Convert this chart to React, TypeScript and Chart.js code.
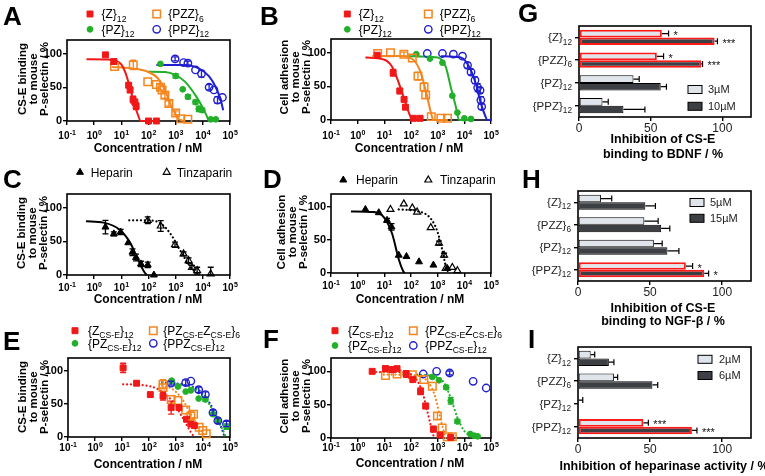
import React, { useEffect, useRef } from 'react';
import { Chart, registerables } from 'chart.js';
Chart.register(...registerables);

const W = 765, H = 476;
const FF = '"Liberation Sans", Arial, Helvetica, sans-serif';
Chart.defaults.font.family = FF;

const RED = '#f01818', ORANGE = '#f5861f', GREEN = '#22b02a', BLUE = '#1f1fd0', BLACK = '#000000';
const LIGHT = '#dfe5ea', DARK = '#3c3f43', SIG_RED = '#ff1a1a';

// ---------- tick values ----------
const DECADES = [0.1, 1, 10, 100, 1000, 10000, 100000];
const Y_TICKS = [0, 50, 100];
const BAR_TICKS = [0, 50, 100];

// ---------- data: [concentration nM, value %, error] ----------
const A_Z = [[2.6,98,0],[5.3,88,4],[18.6,53,3],[21,46,4],[27,32,5],[31.6,28,4],[35,22,5],[100,0,0],[195,0,0]];
const A_Z_FIT = [[0.52,91.5],[3.16,91],[6.3,89],[10,84],[14,72],[20,52],[28,30],[40,10],[52,0],[200,0]];
const A_PZZ = [[5.6,80.6,0],[27.5,83,7],[94,58,0],[195,54,0],[275,50,4],[316,46,0],[400,38,4],[562,26,4],[1000,12,3],[1550,3.5,0],[2800,2.5,0]];
const A_PZZ_FIT = [[4.6,80],[22,78],[94,73],[224,63],[400,46],[708,21],[1260,3.5],[1950,0]];
const A_PZ = [[275,84.6,0],[1000,66.7,3],[1820,47,0],[2820,36,3],[5370,28,3],[7080,18,4],[9550,16,3],[19500,2.5,0],[29900,2.5,0]];
const A_PZ_FIT = [[94,73],[400,72.6],[1000,68],[2240,58],[5370,38],[9550,21],[14450,6],[17000,0],[30000,0]];
const A_PPZ = [[955,92,3],[1950,86.6,0],[2820,85.6,3],[5370,75.6,0],[8900,70,5],[17000,50,4],[25700,46,0],[34700,31,5],[52500,35,0]];
const A_PPZ_FIT = [[195,83],[1660,83],[7080,78],[17000,66],[29900,50],[45700,31],[56200,16]];

const B_Z = [[5.4,96,0],[21.4,70,5],[38,43,4],[55,30.5,3],[62,19,3],[123,2.5,0],[219,2.5,0]];
const B_Z_FIT = [[1.95,92.6],[9.5,89.6],[19.5,79],[35.5,54],[63,24.6],[95,5],[112,0],[220,0]];
const B_PZZ = [[5.6,98.5,0],[17,99.5,0],[54,97.5,3],[112,92,0],[182,65,6],[309,49,6],[355,37,5],[575,5,0],[1320,2.5,0],[2340,2.5,0]];
const B_PZZ_FIT = [[3.5,95],[40,95],[126,88.7],[229,71],[355,44],[550,12],[692,0],[2400,0]];
const B_PZ = [[158,97.5,0],[513,91,0],[1510,85,0],[3550,36,0],[5500,11,0],[10000,2.5,0],[17800,1.5,0]];
const B_PZ_FIT = [[83,94.6],[1000,92.6],[2000,79],[3090,49],[4790,20],[6310,0],[17800,0]];
const B_PPZ = [[407,98.5,0],[1510,98.5,0],[3890,97.5,0],[8510,94.6,0],[13200,81,4],[17800,71,4],[25100,59,5],[31600,48,6],[38900,44,4],[41700,29.5,5],[44700,19.7,4]];
const B_PPZ_FIT = [[1320,94.6],[7410,92.6],[15100,79],[26900,54],[41700,24.6],[58900,7.4],[74100,0],[100000,0]];

const C_HEP = [[2.6,71,10],[5.3,61,3],[9.4,63.7,4],[18,47.8,0],[25.7,33.8,5],[34.7,26,5],[52.5,16.4,4],[94,15,4],[158,0,0]];
const C_HEP_FIT = [[0.5,79.6],[2.24,77.6],[9.4,66],[22.4,46],[40,24],[71,4],[87,0]];
const C_TIN = [[94,81,5],[282,72.6,8],[944,44.8,4],[1950,31.3,3],[2990,21.4,4],[3980,11.4,3],[6170,6.5,5],[19500,1.5,10]];
const C_TIN_FIT = [[19.5,81],[94,81],[299,75.6],[708,58.7],[1260,41],[2240,24],[3980,9],[7080,1.5]];

const D_HEP = [[1.95,96.5,0],[6.2,91.6,0],[12.6,80,3],[18.6,70,5],[34.7,27,0],[67.6,25,0],[200,17,0],[692,12,0],[2290,7,0]];
const D_HEP_FIT = [[0.56,93.6],[4,92.6],[9.5,85],[19.5,60],[34.7,21],[50,3.5],[57.5,0]];
const D_TIN = [[17,96.5,0],[53.7,105,0],[112,99,0],[170,92.6,0],[550,69,0],[1120,45.5,3],[1740,27,3],[2000,7,0],[3550,8.4,0],[5500,3.5,0]];
const D_TIN_FIT = [[34.7,96.5],[170,94],[550,82.7],[977,63],[1480,35.6],[2000,11],[2630,0]];

const E_Z = [[11,105,7],[34.7,81.7,0],[112,64.4,0],[331,62,6],[661,44.6,10],[1290,44.6,0],[2450,27,0],[3550,19.8,4],[4790,17.3,0]];
const E_Z_FIT = [[11,80],[54,79],[229,72],[724,54.5],[1740,29.7],[3550,7.4],[4790,0]];
const E_PZZ = [[331,80,7],[331,75,0],[661,57,0],[1175,55.4,0],[2290,41,0],[3550,32,6],[4470,34.6,0],[7240,14.9,0],[9770,9.9,0],[13200,5,0]];
const E_PZZ_FIT = [[302,78],[724,73],[1740,57],[3550,34.6],[7240,15],[11200,2.5]];
const E_PZ = [[692,85.6,0],[1175,76.7,0],[2290,69,0],[3550,70.8,0],[6920,58.4,0],[12300,57,3],[23400,34.6,0],[35500,24.8,0],[74100,15.8,4]];
const E_PZ_FIT = [[302,81.7],[2290,78],[7240,69],[17400,49.5],[35500,24.8],[58900,7.4],[69200,0]];
const E_PPZ = [[661,81.7,3],[2290,82.7,4],[3550,85,0],[6920,71.8,4],[12300,64.4,4],[23400,37,4],[35500,24.8,4],[74100,19.8,4]];
const E_PPZ_FIT = [[302,83],[2290,79],[7240,70.8],[17400,52],[35500,27],[55000,7.4],[63100,0]];

const F_Z = [[3.5,100,0],[11,104,4],[19.5,102.5,4],[30,104,3],[66,96,5],[117,87.6,0],[229,70,5],[355,48,4],[692,13.4,4],[1230,4.5,0],[3090,1,0]];
const F_Z_FIT = [[3.5,99],[40,98.5],[126,92.6],[263,70],[407,40.6],[575,16],[724,1]];
const F_PZZ = [[11,93.6,0],[30,96,0],[112,95,0],[302,87.6,0],[631,77.7,0],[977,33,5],[1480,15,0],[2290,2,0],[3550,2,0]];
const F_PZZ_FIT = [[9.5,95],[126,94],[468,82.7],[832,60],[1230,31],[1740,8.4],[2000,0]];
const F_PZ = [[631,91.6,0],[1120,86.6,0],[2090,76,3],[3090,56,5],[5500,24.8,3],[16600,6,0],[23400,3.5,0],[31600,2.5,0]];
const F_PZ_FIT = [[170,95],[724,92.6],[1740,82.7],[3090,60],[5500,30.7],[9770,11],[17400,3.5],[35500,2]];
const F_PPZ = [[288,96,0],[912,100,0],[2820,97.5,3],[21400,85,0],[66100,75,0]];

// bar panels (categories; "~x~" marks subscript)
const BAR_CATS = ['{Z}~12~', '{PZZ}~6~', '{PZ}~12~', '{PPZ}~12~'];
const G_LOW = [57.8, 54.3, 38, 16.4];
const G_LOW_ERR = [4.7, 4.7, 4, 4];
const G_LOW_SIG = ['*', '*', '', ''];
const G_HIGH = [94.6, 85.2, 57, 31];
const G_HIGH_ERR = [2, 1, 4, 15];
const G_HIGH_SIG = ['***', '***', '', ''];
const H_LOW = [15.9, 46, 52.6, 74.8];
const H_LOW_ERR = [7.5, 9.6, 5.8, 4.7];
const H_LOW_SIG = ['', '', '', '*'];
const H_HIGH = [46.7, 57.7, 62, 87.6];
const H_HIGH_ERR = [7, 6, 8, 3];
const H_HIGH_SIG = ['', '', '', '*'];
const I_LOW = [8.8, 24.9, 0.3, 45.3];
const I_LOW_ERR = [2.8, 2.6, 3, 3.5];
const I_LOW_SIG = ['', '', '', '***'];
const I_HIGH = [21.4, 51.6, 0, 79];
const I_HIGH_ERR = [3.5, 3.7, 0, 3.5];
const I_HIGH_SIG = ['', '', '', '***'];

// ---------- helpers ----------
type Marker = 'sq' | 'osq' | 'dot' | 'ocirc' | 'tri' | 'otri';
const MK: Record<Marker, { style: string; r: number; fill: boolean; bw: number }> = {
  sq: { style: 'rect', r: 4.2, fill: true, bw: 1 },
  osq: { style: 'rect', r: 5.3, fill: false, bw: 1.5 },
  dot: { style: 'circle', r: 2.9, fill: true, bw: 1 },
  ocirc: { style: 'circle', r: 3.7, fill: false, bw: 1.4 },
  tri: { style: 'triangle', r: 4, fill: true, bw: 1 },
  otri: { style: 'triangle', r: 4, fill: false, bw: 1.2 },
};

function drawMarker(ctx: CanvasRenderingContext2D, m: Marker, x: number, y: number, color: string) {
  const s = MK[m];
  ctx.save();
  ctx.beginPath();
  if (s.style === 'rect') {
    const h = s.r * Math.SQRT1_2;
    ctx.rect(x - h, y - h, 2 * h, 2 * h);
  } else if (s.style === 'circle') {
    ctx.arc(x, y, s.r, 0, Math.PI * 2);
  } else {
    for (let k = 0; k < 3; k++) {
      const a = (k * 2 * Math.PI) / 3;
      const px = x + Math.sin(a) * s.r, py = y - Math.cos(a) * s.r;
      if (k === 0) ctx.moveTo(px, py); else ctx.lineTo(px, py);
    }
    ctx.closePath();
  }
  ctx.lineWidth = s.bw;
  ctx.strokeStyle = color;
  if (s.fill) { ctx.fillStyle = color; ctx.fill(); }
  ctx.stroke();
  ctx.restore();
}

function drawRich(ctx: CanvasRenderingContext2D, str: string, x: number, yMid: number, size: number,
  align: 'left' | 'right' | 'center', color: string, weight = 'normal') {
  const segs = str.split('~').map((t, i) => [t, i % 2 === 1] as [string, boolean]).filter(s => s[0].length > 0);
  const sub = size * 0.72;
  const widths = segs.map(([t, isSub]) => { ctx.font = `${weight} ${isSub ? sub : size}px ${FF}`; return ctx.measureText(t).width; });
  const total = widths.reduce((a, b) => a + b, 0);
  let cx = align === 'right' ? x - total : align === 'center' ? x - total / 2 : x;
  const base = yMid + size * 0.35;
  ctx.save();
  ctx.fillStyle = color; ctx.textAlign = 'left'; ctx.textBaseline = 'alphabetic';
  segs.forEach(([t, isSub], i) => {
    ctx.font = `${weight} ${isSub ? sub : size}px ${FF}`;
    ctx.fillText(t, cx, isSub ? base + size * 0.28 : base);
    cx += widths[i];
  });
  ctx.restore();
}

function drawLetter(ctx: CanvasRenderingContext2D, letter: string, x: number, y: number) {
  ctx.save();
  ctx.font = `bold 26px ${FF}`; ctx.fillStyle = '#000'; ctx.textAlign = 'left'; ctx.textBaseline = 'alphabetic';
  ctx.fillText(letter, x, y);
  ctx.restore();
}

function drawBox(chart: any) {
  const { ctx, chartArea: a } = chart;
  ctx.save();
  ctx.strokeStyle = '#000'; ctx.lineWidth = 1.6;
  ctx.strokeRect(a.left, a.top, a.right - a.left, a.bottom - a.top);
  ctx.restore();
}

const tickGrid = { display: true, drawOnChartArea: false, drawTicks: true, tickLength: 4, color: '#000', lineWidth: 1.4 };

// ---------- log panels ----------
interface Series { pts: number[][]; fit?: number[][]; color: string; marker: Marker; dotted?: boolean; }
interface LegendItem { x: number; y: number; tx: number; marker: Marker; color: string; text: string; }
interface LogPanel {
  letter: string; lx: number; ly: number; box: number[];
  yTitle: string[]; ytx: number; yty: number;
  xLabelY: number; xTitleX: number; xTitleY: number;
  legend: LegendItem[]; series: Series[];
}

const YT_A = ['CS-E binding', 'to mouse', 'P-selectin / %'];
const YT_B = ['Cell adhesion', 'to mouse', 'P-selectin / %'];
const XT = 'Concentration / nM';

const legend4 = (x1: number, x2: number, y1: number, y2: number, t1: number, t2: number, names: string[]): LegendItem[] => [
  { x: x1, y: y1, tx: x1 + t1, marker: 'sq', color: RED, text: names[0] },
  { x: x2, y: y1, tx: x2 + t2, marker: 'osq', color: ORANGE, text: names[1] },
  { x: x1, y: y2, tx: x1 + t1, marker: 'dot', color: GREEN, text: names[2] },
  { x: x2, y: y2, tx: x2 + t2, marker: 'ocirc', color: BLUE, text: names[3] },
];
const NAMES_1 = ['{Z}~12~', '{PZZ}~6~', '{PZ}~12~', '{PPZ}~12~'];
const NAMES_2 = ['{Z~CS-E~}~12~', '{PZ~CS-E~Z~CS-E~}~6~', '{PZ~CS-E~}~12~', '{PPZ~CS-E~}~12~'];

const PANEL_A: LogPanel = {
  letter: 'A', lx: 3, ly: 25, box: [67, 40, 230, 121], yTitle: YT_A, ytx: 34, yty: 79,
  xLabelY: 135, xTitleX: 148, xTitleY: 148.5,
  legend: legend4(90, 156.7, 14, 29.3, 11.5, 11.5, NAMES_1),
  series: [
    { pts: A_Z, fit: A_Z_FIT, color: RED, marker: 'sq' },
    { pts: A_PZZ, fit: A_PZZ_FIT, color: ORANGE, marker: 'osq' },
    { pts: A_PZ, fit: A_PZ_FIT, color: GREEN, marker: 'dot' },
    { pts: A_PPZ, fit: A_PPZ_FIT, color: BLUE, marker: 'ocirc' },
  ],
};
const PANEL_B: LogPanel = {
  letter: 'B', lx: 260, ly: 25, box: [331, 39, 491, 120], yTitle: YT_B, ytx: 295.5, yty: 77,
  xLabelY: 135, xTitleX: 409, xTitleY: 148.5,
  legend: legend4(347.3, 428.3, 14, 29.3, 11.5, 11.5, NAMES_1),
  series: [
    { pts: B_Z, fit: B_Z_FIT, color: RED, marker: 'sq' },
    { pts: B_PZZ, fit: B_PZZ_FIT, color: ORANGE, marker: 'osq' },
    { pts: B_PZ, fit: B_PZ_FIT, color: GREEN, marker: 'dot' },
    { pts: B_PPZ, fit: B_PPZ_FIT, color: BLUE, marker: 'ocirc' },
  ],
};
const PANEL_C: LogPanel = {
  letter: 'C', lx: 3, ly: 188, box: [67, 194, 230, 275], yTitle: YT_A, ytx: 33, yty: 233,
  xLabelY: 287, xTitleX: 148, xTitleY: 300,
  legend: [
    { x: 80, y: 172.3, tx: 90.7, marker: 'tri', color: BLACK, text: 'Heparin' },
    { x: 166.7, y: 172.3, tx: 176.7, marker: 'otri', color: BLACK, text: 'Tinzaparin' },
  ],
  series: [
    { pts: C_HEP, fit: C_HEP_FIT, color: BLACK, marker: 'tri' },
    { pts: C_TIN, fit: C_TIN_FIT, color: BLACK, marker: 'otri', dotted: true },
  ],
};
const PANEL_D: LogPanel = {
  letter: 'D', lx: 263, ly: 188, box: [331, 194, 491, 273], yTitle: YT_B, ytx: 293, yty: 232,
  xLabelY: 285, xTitleX: 410, xTitleY: 300,
  legend: [
    { x: 343.3, y: 180, tx: 356, marker: 'tri', color: BLACK, text: 'Heparin' },
    { x: 428.3, y: 180, tx: 440, marker: 'otri', color: BLACK, text: 'Tinzaparin' },
  ],
  series: [
    { pts: D_HEP, fit: D_HEP_FIT, color: BLACK, marker: 'tri' },
    { pts: D_TIN, fit: D_TIN_FIT, color: BLACK, marker: 'otri', dotted: true },
  ],
};
const PANEL_E: LogPanel = {
  letter: 'E', lx: 3, ly: 350, box: [68, 358, 230, 437], yTitle: YT_A, ytx: 33.5, yty: 397,
  xLabelY: 447, xTitleX: 148, xTitleY: 465,
  legend: legend4(75, 153.3, 330.7, 343.3, 13, 10, NAMES_2),
  series: [
    { pts: E_Z, fit: E_Z_FIT, color: RED, marker: 'sq', dotted: true },
    { pts: E_PZZ, fit: E_PZZ_FIT, color: ORANGE, marker: 'osq', dotted: true },
    { pts: E_PZ, fit: E_PZ_FIT, color: GREEN, marker: 'dot', dotted: true },
    { pts: E_PPZ, fit: E_PPZ_FIT, color: BLUE, marker: 'ocirc', dotted: true },
  ],
};
const PANEL_F: LogPanel = {
  letter: 'F', lx: 263, ly: 348, box: [331, 358, 491, 438], yTitle: YT_B, ytx: 296, yty: 396,
  xLabelY: 447, xTitleX: 410, xTitleY: 464,
  legend: legend4(335, 413.3, 330.7, 345.5, 13, 12, NAMES_2),
  series: [
    { pts: F_Z, fit: F_Z_FIT, color: RED, marker: 'sq', dotted: true },
    { pts: F_PZZ, fit: F_PZZ_FIT, color: ORANGE, marker: 'osq', dotted: true },
    { pts: F_PZ, fit: F_PZ_FIT, color: GREEN, marker: 'dot', dotted: true },
    { pts: F_PPZ, color: BLUE, marker: 'ocirc' },
  ],
};

function makeLogConfig(p: LogPanel) {
  const [L, T, R, B] = p.box;
  const datasets: any[] = [];
  p.series.forEach(s => {
    const mk = MK[s.marker];
    datasets.push({
      data: s.pts.map(([x, y, e]) => ({ x, y, e })),
      pointStyle: mk.style, pointRadius: mk.r, pointBorderWidth: mk.bw,
      pointBackgroundColor: mk.fill ? s.color : 'rgba(0,0,0,0)', pointBorderColor: s.color,
      showLine: false, clip: false, order: 0, errColor: s.color,
    });
    if (s.fit) {
      datasets.push({
        data: s.fit.map(([x, y]) => ({ x, y })),
        showLine: true, pointRadius: 0, borderColor: s.color,
        borderWidth: s.dotted ? 2.2 : 2, borderDash: s.dotted ? [0.1, 3.8] : [], borderCapStyle: s.dotted ? 'round' : 'butt',
        cubicInterpolationMode: 'monotone', fill: false, clip: false, order: 1,
      });
    }
  });
  const plugin = {
    id: 'decor' + p.letter,
    beforeDatasetsDraw(chart: any) { drawBox(chart); },
    afterDatasetsDraw(chart: any) {
      const { ctx } = chart; const ys = chart.scales.y;
      chart.data.datasets.forEach((ds: any, di: number) => {
        if (!ds.errColor) return;
        const meta = chart.getDatasetMeta(di);
        meta.data.forEach((el: any, i: number) => {
          const d = ds.data[i]; if (!d.e) return;
          const y1 = ys.getPixelForValue(d.y + d.e), y2 = ys.getPixelForValue(Math.max(0, d.y - d.e));
          ctx.save(); ctx.strokeStyle = ds.errColor; ctx.lineWidth = 1.3; ctx.beginPath();
          ctx.moveTo(el.x, y1); ctx.lineTo(el.x, y2);
          ctx.moveTo(el.x - 3, y1); ctx.lineTo(el.x + 3, y1);
          ctx.moveTo(el.x - 3, y2); ctx.lineTo(el.x + 3, y2);
          ctx.stroke(); ctx.restore();
        });
      });
    },
    afterDraw(chart: any) {
      const { ctx } = chart; const xs = chart.scales.x;
      drawLetter(ctx, p.letter, p.lx, p.ly);
      p.legend.forEach(it => {
        drawMarker(ctx, it.marker, it.x, it.y, it.color);
        drawRich(ctx, it.text, it.tx, it.y, 12, 'left', '#000');
      });
      // y title
      ctx.save();
      ctx.translate(p.ytx, p.yty); ctx.rotate(-Math.PI / 2);
      ctx.font = `bold 11.5px ${FF}`; ctx.fillStyle = '#000'; ctx.textAlign = 'center'; ctx.textBaseline = 'middle';
      p.yTitle.forEach((line, i) => ctx.fillText(line, 0, (i - 1) * 11));
      ctx.restore();
      // x tick labels 10^n
      ctx.save(); ctx.fillStyle = '#000'; ctx.textAlign = 'left'; ctx.textBaseline = 'alphabetic';
      DECADES.forEach(v => {
        const px = xs.getPixelForValue(v);
        const ex = String(Math.round(Math.log10(v)));
        ctx.font = `bold 10px ${FF}`; const w1 = ctx.measureText('10').width;
        ctx.font = `bold 7px ${FF}`; const w2 = ctx.measureText(ex).width;
        const sx = px - (w1 + w2) / 2;
        ctx.font = `bold 10px ${FF}`; ctx.fillText('10', sx, p.xLabelY + 4);
        ctx.font = `bold 7px ${FF}`; ctx.fillText(ex, sx + w1 + 0.3, p.xLabelY - 0.5);
      });
      ctx.restore();
      // x title
      ctx.save(); ctx.font = `bold 12px ${FF}`; ctx.fillStyle = '#000'; ctx.textAlign = 'center'; ctx.textBaseline = 'middle';
      ctx.fillText(XT, p.xTitleX, p.xTitleY); ctx.restore();
    },
  };
  return {
    type: 'scatter',
    data: { datasets },
    options: {
      responsive: false, animation: false, devicePixelRatio: 1, events: [],
      layout: { autoPadding: false, padding: { left: L - 40, top: T, right: W - R, bottom: H - B - 30 } },
      plugins: { legend: { display: false }, tooltip: { enabled: false }, title: { display: false } },
      scales: {
        x: {
          type: 'logarithmic', min: 0.1, max: 100000, position: 'bottom',
          afterBuildTicks: (s: any) => { s.ticks = DECADES.map(v => ({ value: v })); },
          afterFit: (s: any) => { s.height = 30; },
          ticks: { callback: () => '', autoSkip: false, maxRotation: 0 },
          grid: tickGrid, border: { display: false },
        },
        y: {
          type: 'linear', min: 0, max: 120,
          afterBuildTicks: (s: any) => { s.ticks = Y_TICKS.map(v => ({ value: v })); },
          afterFit: (s: any) => { s.width = 40; },
          ticks: { font: { size: 11, weight: 'bold', family: FF }, color: '#000', padding: 1 },
          grid: tickGrid, border: { display: false },
        },
      },
    },
    plugins: [plugin],
  };
}

// ---------- bar panels ----------
interface BarPanel {
  letter: string; lx: number; ly: number; box: number[];
  low: number[]; lowErr: number[]; lowSig: string[];
  high: number[]; highErr: number[]; highSig: string[];
  lowLabel: string; highLabel: string;
  legX: number; legY: number[]; legTX: number;
  xTitle: string[]; xTitleX: number; xTitleY: number[];
}
const PANEL_G: BarPanel = {
  letter: 'G', lx: 518, ly: 22, box: [579, 26, 751, 117],
  low: G_LOW, lowErr: G_LOW_ERR, lowSig: G_LOW_SIG, high: G_HIGH, highErr: G_HIGH_ERR, highSig: G_HIGH_SIG,
  lowLabel: '3µM', highLabel: '10µM', legX: 688, legY: [89.5, 106.3], legTX: 708,
  xTitle: ['Inhibition of CS-E', 'binding to BDNF / %'], xTitleX: 663, xTitleY: [140, 154.3],
};
const PANEL_H: BarPanel = {
  letter: 'H', lx: 522, ly: 188, box: [578, 191, 751, 281],
  low: H_LOW, lowErr: H_LOW_ERR, lowSig: H_LOW_SIG, high: H_HIGH, highErr: H_HIGH_ERR, highSig: H_HIGH_SIG,
  lowLabel: '5µM', highLabel: '15µM', legX: 690, legY: [202.5, 218.3], legTX: 710,
  xTitle: ['Inhibition of CS-E', 'binding to NGF-β / %'], xTitleX: 663, xTitleY: [308.3, 321.5],
};
const PANEL_I: BarPanel = {
  letter: 'I', lx: 528, ly: 348, box: [578, 347, 751, 438],
  low: I_LOW, lowErr: I_LOW_ERR, lowSig: I_LOW_SIG, high: I_HIGH, highErr: I_HIGH_ERR, highSig: I_HIGH_SIG,
  lowLabel: '2µM', highLabel: '6µM', legX: 698, legY: [359.3, 375.5], legTX: 719,
  xTitle: ['Inhibition of heparinase activity / %'], xTitleX: 664, xTitleY: [466.7],
};

function makeBarConfig(p: BarPanel) {
  const [L, T, R, B] = p.box;
  const mkDs = (vals: number[], errs: number[], sig: string[], fill: string) => ({
    data: vals, errs, sig, backgroundColor: fill,
    borderColor: sig.map(s => (s ? SIG_RED : '#000')), borderWidth: sig.map(s => (s ? 2 : 1)),
    borderSkipped: false, categoryPercentage: 0.66, barPercentage: 1,
  });
  const plugin = {
    id: 'decor' + p.letter,
    beforeDatasetsDraw(chart: any) { drawBox(chart); },
    afterDatasetsDraw(chart: any) {
      const { ctx } = chart; const xs = chart.scales.x;
      chart.data.datasets.forEach((ds: any, di: number) => {
        const meta = chart.getDatasetMeta(di);
        meta.data.forEach((el: any, i: number) => {
          const e = ds.errs[i]; const v = ds.data[i];
          const xe = xs.getPixelForValue(v + e);
          if (e > 0) {
            ctx.save(); ctx.strokeStyle = '#000'; ctx.lineWidth = 1.2; ctx.beginPath();
            ctx.moveTo(el.x, el.y); ctx.lineTo(xe, el.y);
            ctx.moveTo(xe, el.y - 3); ctx.lineTo(xe, el.y + 3);
            ctx.stroke(); ctx.restore();
          }
          if (ds.sig[i]) {
            ctx.save(); ctx.font = `normal 11px ${FF}`; ctx.fillStyle = '#111'; ctx.textAlign = 'left'; ctx.textBaseline = 'middle';
            ctx.fillText(ds.sig[i], xe + 5, el.y + 2.5); ctx.restore();
          }
        });
      });
    },
    afterDraw(chart: any) {
      const { ctx } = chart; const ys = chart.scales.y;
      drawLetter(ctx, p.letter, p.lx, p.ly);
      BAR_CATS.forEach((c, i) => drawRich(ctx, c, L - 7, ys.getPixelForTick(i), 11.5, 'right', '#222'));
      [[p.lowLabel, LIGHT], [p.highLabel, DARK]].forEach(([lab, col], i) => {
        const cy = p.legY[i];
        ctx.save(); ctx.fillStyle = col; ctx.strokeStyle = '#000'; ctx.lineWidth = 1;
        ctx.fillRect(p.legX, cy - 4, 14, 8); ctx.strokeRect(p.legX, cy - 4, 14, 8); ctx.restore();
        drawRich(ctx, lab, p.legTX, cy, 11, 'left', '#222');
      });
      ctx.save(); ctx.font = `bold 12.5px ${FF}`; ctx.fillStyle = '#000'; ctx.textAlign = 'center'; ctx.textBaseline = 'middle';
      p.xTitle.forEach((t, i) => ctx.fillText(t, p.xTitleX, p.xTitleY[i]));
      ctx.restore();
    },
  };
  return {
    type: 'bar',
    data: {
      labels: BAR_CATS,
      datasets: [mkDs(p.low, p.lowErr, p.lowSig, LIGHT), mkDs(p.high, p.highErr, p.highSig, DARK)],
    },
    options: {
      indexAxis: 'y', responsive: false, animation: false, devicePixelRatio: 1, events: [],
      layout: { autoPadding: false, padding: { left: L - 60, top: T, right: W - R, bottom: H - B - 30 } },
      plugins: { legend: { display: false }, tooltip: { enabled: false }, title: { display: false } },
      scales: {
        x: {
          type: 'linear', min: 0, max: 120,
          afterBuildTicks: (s: any) => { s.ticks = BAR_TICKS.map(v => ({ value: v })); },
          afterFit: (s: any) => { s.height = 30; },
          ticks: { font: { size: 12, family: FF }, color: '#222', padding: 0, maxRotation: 0 },
          grid: tickGrid, border: { display: false },
        },
        y: {
          type: 'category', offset: true,
          afterFit: (s: any) => { s.width = 60; },
          ticks: { callback: () => '' },
          grid: { ...tickGrid, offset: false }, border: { display: false },
        },
      },
    },
    plugins: [plugin],
  };
}

function ChartCanvas({ make }: { make: () => any }) {
  const ref = useRef<HTMLCanvasElement>(null);
  useEffect(() => {
    const chart = new Chart(ref.current as HTMLCanvasElement, make());
    return () => chart.destroy();
  }, []);
  return <canvas ref={ref} width={W} height={H} style={{ position: 'absolute', left: 0, top: 0, width: W, height: H }} />;
}

export default function App() {
  const makers = [
    () => makeLogConfig(PANEL_A), () => makeLogConfig(PANEL_B), () => makeBarConfig(PANEL_G),
    () => makeLogConfig(PANEL_C), () => makeLogConfig(PANEL_D), () => makeBarConfig(PANEL_H),
    () => makeLogConfig(PANEL_E), () => makeLogConfig(PANEL_F), () => makeBarConfig(PANEL_I),
  ];
  return (
    <div style={{ position: 'fixed', left: 0, top: 0, width: W, height: H, background: '#fff', overflow: 'hidden' }}>
      {makers.map((m, i) => <ChartCanvas key={i} make={m} />)}
    </div>
  );
}
